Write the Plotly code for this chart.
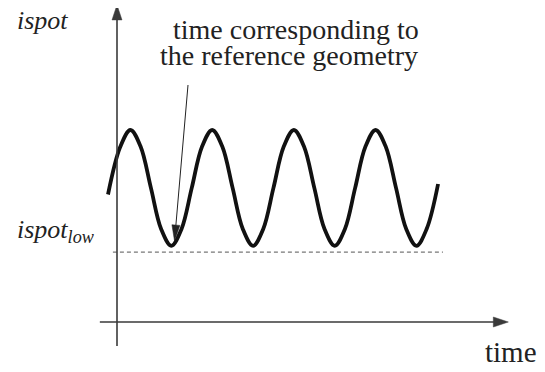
import math
import plotly.graph_objects as go

# spot current (time in periods, ispot in arbitrary units)
time_pts = [-0.11, 0.04, 0.165, 0.29, 0.415, 0.54, 0.665, 0.79, 0.915,
            1.04, 1.165, 1.29, 1.415, 1.54, 1.665, 1.79, 1.915,
            2.04, 2.165, 2.29, 2.415, 2.54, 2.665, 2.79, 2.915,
            3.04, 3.165, 3.29, 3.415, 3.54, 3.665, 3.79, 3.93]
ispot_pts = [4.25, 5.84, 6.40, 5.84, 4.47, 3.10, 2.54, 3.10, 4.47,
             5.84, 6.40, 5.84, 4.47, 3.10, 2.54, 3.10, 4.47,
             5.84, 6.40, 5.84, 4.47, 3.10, 2.54, 3.10, 4.47,
             5.84, 6.40, 5.84, 4.47, 3.10, 2.54, 3.10, 4.60]
ispot_low = 2.33
t_ref = 0.704          # where the pointer arrow lands
pointer_tail = (0.869, 7.9)
dash_span = [-0.05, 3.99]
t_axis = [-0.21, 4.79]
v_axis = [-0.8, 10.57]

W, H = 545, 372
OFF = 8                # the page body margin shifts the figure by this much
SX, SY = 81.7, 30.0    # pixels per unit
X0 = -(117 - OFF) / SX
X1 = X0 + W / SX
Y1 = (322 - OFF) / SY
Y0 = Y1 - H / SY

FONT = 'Liberation Serif, DejaVu Serif, serif'
INK = '#222222'
AXIS = '#3a3a3a'


def px(t):
    return (t - X0) / (X1 - X0) * W


def py(v):
    return (Y1 - v) / (Y1 - Y0) * H


def to_t(p):
    return X0 + p / W * (X1 - X0)


def to_v(p):
    return Y1 - p / H * (Y1 - Y0)


def arrow(fig, t0, v0, t1, v1, length, width, lw, color):
    # line plus a slender filled head, built in pixel space
    x0, y0, x1, y1 = px(t0), py(v0), px(t1), py(v1)
    d = math.hypot(x1 - x0, y1 - y0)
    ux, uy = (x1 - x0) / d, (y1 - y0) / d
    nx, ny = -uy, ux
    bx, by = x1 - ux * length, y1 - uy * length
    fig.add_shape(type='line', x0=t0, y0=v0,
                  x1=to_t(bx + ux * 2), y1=to_v(by + uy * 2),
                  line=dict(color=color, width=lw))
    pts = [(x1, y1), (bx + nx * width / 2, by + ny * width / 2),
           (bx - nx * width / 2, by - ny * width / 2)]
    path = 'M ' + ' L '.join(f'{to_t(a):.4f},{to_v(b):.4f}' for a, b in pts) + ' Z'
    fig.add_shape(type='path', path=path, fillcolor=color,
                  line=dict(color=color, width=0.5))


def label(fig, text, x, y, size, xanchor='left', yanchor='middle'):
    # x, y in pixels of the reference picture
    fig.add_annotation(text=text, xref='paper', yref='paper',
                       x=(x - OFF) / W, y=1 - (y - OFF) / H,
                       xanchor=xanchor, yanchor=yanchor, showarrow=False,
                       font=dict(family=FONT, size=size, color=INK))


fig = go.Figure()

fig.add_trace(go.Scatter(
    x=time_pts,
    y=ispot_pts,
    mode='lines',
    line=dict(color='#111111', width=3.8, shape='spline', smoothing=1.0),
    hoverinfo='skip',
))

# ispot_low reference level
fig.add_shape(type='line', x0=dash_span[0], x1=dash_span[1], y0=ispot_low, y1=ispot_low,
              line=dict(color='#555555', width=1, dash='4px,3px'))

# axes with arrow heads
arrow(fig, 0, v_axis[0], 0, v_axis[1], 15, 10, 1.6, AXIS)
arrow(fig, t_axis[0], 0, t_axis[1], 0, 15, 10, 1.6, AXIS)

# pointer to the reference time
arrow(fig, pointer_tail[0], pointer_tail[1], t_ref, ispot_low + 0.37, 16, 8, 1, '#222222')

label(fig, '<i>ispot</i>', 15, 21, 26)
label(fig, 'time corresponding to', 296, 30, 28, xanchor='center')
label(fig, 'the reference geometry', 289, 55, 28, xanchor='center')
label(fig, '<i>ispot<sub>low</sub></i>', 15, 231, 26)
label(fig, 'time', 483, 352, 29)
label(fig, '(a)', 14, 364, 30, yanchor='top')

fig.update_layout(
    width=W,
    height=H,
    margin=dict(l=0, r=0, t=0, b=0),
    paper_bgcolor='white',
    plot_bgcolor='white',
    showlegend=False,
    xaxis=dict(range=[X0, X1], visible=False),
    yaxis=dict(range=[Y0, Y1], visible=False),
)

fig.write_html("out.html")
